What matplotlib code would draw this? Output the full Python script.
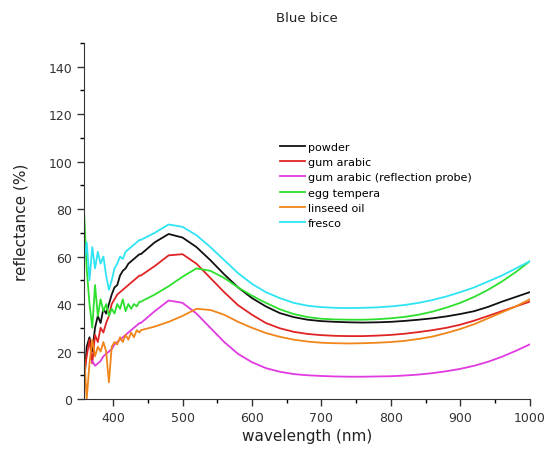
import numpy as np
import matplotlib
matplotlib.use("Agg")
import matplotlib.pyplot as plt
from matplotlib.ticker import MultipleLocator

nan = np.nan
wl_noisy = [358, 362, 366, 370, 374, 378, 382, 386, 390, 394, 398, 402, 406, 410, 414, 418, 422, 426, 430, 434, 438]
wl_smooth = [440, 460, 480, 500, 520, 540, 560, 580, 600, 620, 640, 660, 680, 700, 720,
             740, 760, 780, 800, 820, 840, 860, 880, 900, 920, 940, 960, 980, 1000]

powder = [5, 22, 26, 20, 30, 35, 32, 38, 36, 40, 44, 47, 48, 52, 54, 55, 57, 58, 59, 60, 61,
          61, 66, 69.5, 68, 64, 58.5, 52.5, 47, 42.5, 39, 36.2, 34.5, 33.4, 32.8, 32.5, 32.3, 32.2,
          32.3, 32.5, 32.9, 33.4, 34, 34.8, 35.8, 37, 38.8, 41, 43, 45]
gum_arabic = [10, 18, 25, 15, 27, 24, 30, 28, 32, 35, 40, 42, 44, 45, 46, 47, 48, 49, 50, 51, 52,
              52, 56, 60.5, 61, 57, 51, 45, 39.5, 35.5, 32, 29.8, 28.3, 27.4, 26.9, 26.6, 26.5, 26.5,
              26.7, 27, 27.5, 28.2, 29, 30, 31.3, 33, 35, 37, 39, 41]
gum_probe = [nan, nan, nan, 16, 14, 15, 16, 18, 19, 20, 21, 23, 24, 25, 26, 27, 28, 29, 30, 31, 32,
             32, 37, 41.5, 40.5, 36, 30, 24, 19, 15.5, 13, 11.5, 10.5, 10, 9.7, 9.5, 9.4, 9.4,
             9.5, 9.6, 9.9, 10.3, 10.9, 11.7, 12.7, 14, 15.7, 17.8, 20.3, 23]
egg_tempera = [80, 55, 40, 30, 48, 35, 42, 37, 40, 35, 38, 36, 40, 38, 42, 37, 40, 38, 40, 39, 41,
               41, 44, 47.5, 51.5, 55, 54, 51, 47, 43.5, 40.5, 37.8, 35.8, 34.5, 33.8, 33.5, 33.4, 33.4,
               33.6, 34, 34.6, 35.5, 36.8, 38.5, 40.5, 43, 46, 49.5, 53.5, 58]
linseed_oil = [20, 0, 15, 25, 18, 22, 20, 24, 20, 7, 22, 24, 23, 26, 24, 27, 25, 28, 26, 29, 28,
               29, 30.5, 32.5, 35, 38, 37.5, 35.5, 32.5, 30, 27.8, 26.2, 25, 24.2, 23.7, 23.5, 23.4, 23.5,
               23.7, 24, 24.5, 25.3, 26.3, 27.8, 29.5, 31.5, 34, 36.5, 39, 42]
fresco = [58, 66, 50, 64, 55, 62, 57, 60, 52, 46, 50, 55, 57, 60, 59, 62, 63, 64, 65, 66, 67,
          67, 70, 73.5, 72.5, 69, 64, 58.5, 53, 48.5, 45, 42.5, 40.5, 39.3, 38.7, 38.4, 38.3, 38.4,
          38.6, 39, 39.6, 40.5, 41.7, 43.2, 45, 47, 49.5, 52, 55, 58]

labels = ["powder", "gum arabic", "gum arabic (reflection probe)", "egg tempera", "linseed oil", "fresco"]
colors = ["#111111", "#e02424", "#e03ae0", "#2ee02e", "#f0861a", "#2ee4f4"]

wl = np.array(wl_noisy + wl_smooth)
series = [powder, gum_arabic, gum_probe, egg_tempera, linseed_oil, fresco]

fig = plt.figure(figsize=(5.45, 4.52), dpi=100)
ax = fig.add_axes([0.154, 0.115, 0.818, 0.788])
for s, lab, c in zip(series, labels, colors):
    ax.plot(wl, s, color=c, lw=1.3, label=lab)

ax.set_xlim(358, 1000)
ax.set_ylim(0, 150)
ax.xaxis.set_major_locator(MultipleLocator(100))
ax.xaxis.set_minor_locator(MultipleLocator(50))
ax.yaxis.set_major_locator(MultipleLocator(20))
ax.yaxis.set_minor_locator(MultipleLocator(10))
ax.set_yticks([0, 20, 40, 60, 80, 100, 120, 140])
ax.tick_params(which="major", direction="out", length=5, width=1, labelsize=9, colors="#333333")
ax.tick_params(which="minor", direction="out", length=3, width=1)
for sp in ["top", "right"]:
    ax.spines[sp].set_visible(False)
for sp in ["left", "bottom"]:
    ax.spines[sp].set_color("#333333")
ax.set_xlabel("wavelength (nm)", fontsize=11, color="#222222", labelpad=3)
ax.set_ylabel("reflectance (%)", fontsize=11, color="#222222", labelpad=14)
ax.set_title("Blue bice", fontsize=9.5, color="#222222", pad=16)
ax.legend(loc="upper left", bbox_to_anchor=(0.43, 0.735), frameon=False, fontsize=8,
          handlelength=2.2, handletextpad=0.3, labelspacing=0.48, borderaxespad=0)
fig.savefig("out.png", dpi=100)
